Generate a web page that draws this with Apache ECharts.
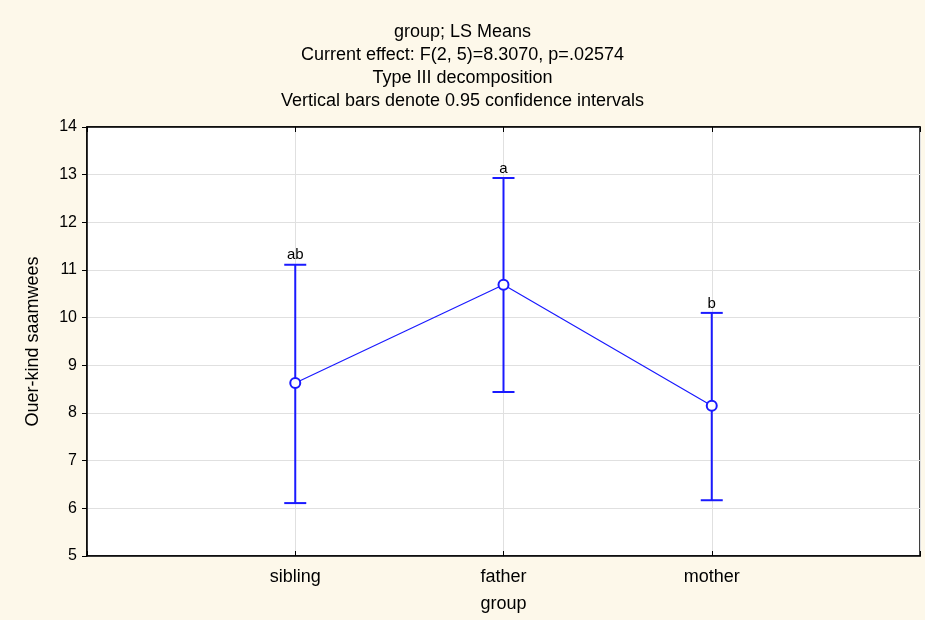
<!DOCTYPE html>
<html>
<head>
<meta charset="UTF-8" />
<script src="https://cdn.jsdelivr.net/npm/echarts@6/dist/echarts.min.js"></script>
<style>
  html, body { margin: 0; padding: 0; background: #fdf8ea; }
  #chart { width: 925px; height: 620px; }
</style>
</head>
<body>
<div id="chart"></div>
<script>
  // data
  const groups = ['sibling', 'father', 'mother'];
  const means = [8.63, 10.69, 8.15];
  const lower = [6.11, 8.44, 6.17];
  const upper = [11.11, 12.93, 10.10];
  const letters = ['ab', 'a', 'b'];
  const yTicks = [5, 6, 7, 8, 9, 10, 11, 12, 13, 14];

  const blue = '#1a1aff';
  const chart = echarts.init(document.getElementById('chart'));

  const lineData = groups.map((g, i) => [i + 1, means[i]]);
  const errData = groups.map((g, i) => [i + 1, lower[i], upper[i], letters[i]]);

  chart.setOption({
    backgroundColor: '#fdf8ea',
    textStyle: { fontFamily: 'Liberation Sans, Arial, sans-serif' },
    title: {
      text: 'group; LS Means\nCurrent effect: F(2, 5)=8.3070, p=.02574\nType III decomposition\nVertical bars denote 0.95 confidence intervals',
      left: 'center',
      top: 16,
      textStyle: { fontSize: 18, fontWeight: 'normal', color: '#000', lineHeight: 23 }
    },
    grid: {
      left: 87, right: 5, top: 127, bottom: 64,
      show: true, backgroundColor: '#fff', borderColor: '#000', borderWidth: 1.5
    },
    xAxis: [{
      type: 'value', min: 0, max: 4, interval: 1,
      name: 'group', nameLocation: 'middle', nameGap: 39,
      nameTextStyle: { fontSize: 18, color: '#000' },
      axisLine: { show: true, lineStyle: { color: '#000', width: 1.5 } },
      axisTick: { show: true, inside: true, length: 5, lineStyle: { color: '#000' } },
      axisLabel: {
        fontSize: 18, color: '#000', margin: 12,
        formatter: v => groups[v - 1] || ''
      },
      splitLine: { show: true, lineStyle: { color: '#e0e0e0' } }
    }, {
      type: 'value', min: 0, max: 4, interval: 1, position: 'top',
      axisLine: { show: true, lineStyle: { color: '#000', width: 1.5 } },
      axisTick: { show: true, inside: true, length: 5, lineStyle: { color: '#000' } },
      axisLabel: { show: false },
      splitLine: { show: false }
    }],
    yAxis: {
      type: 'value', min: yTicks[0], max: yTicks[yTicks.length - 1], interval: 1,
      name: 'Ouer-kind saamwees', nameLocation: 'middle', nameGap: 45,
      nameTextStyle: { fontSize: 18, color: '#000' },
      axisLine: { show: true, lineStyle: { color: '#000', width: 1.5 } },
      axisTick: { show: true, length: 5, lineStyle: { color: '#000' } },
      axisLabel: { fontSize: 16, color: '#000', margin: 10 },
      splitLine: { show: true, lineStyle: { color: '#e0e0e0' } }
    },
    series: [{
      type: 'custom',
      data: errData,
      z: 3,
      renderItem: (params, api) => {
        const x = api.value(0);
        const lo = api.coord([x, api.value(1)]);
        const hi = api.coord([x, api.value(2)]);
        const hw = 11;
        const st = { stroke: blue, lineWidth: 2 };
        return {
          type: 'group',
          children: [
            { type: 'line', shape: { x1: lo[0], y1: lo[1], x2: hi[0], y2: hi[1] }, style: st },
            { type: 'line', shape: { x1: lo[0] - hw, y1: lo[1], x2: lo[0] + hw, y2: lo[1] }, style: st },
            { type: 'line', shape: { x1: hi[0] - hw, y1: hi[1], x2: hi[0] + hw, y2: hi[1] }, style: st },
            { type: 'text', style: {
                x: hi[0], y: hi[1] - 2, text: letters[params.dataIndex],
                textAlign: 'center', textVerticalAlign: 'bottom',
                fontSize: 15, fill: '#000', fontFamily: 'Liberation Sans, Arial, sans-serif'
            } }
          ]
        };
      }
    }, {
      type: 'line',
      data: lineData,
      z: 4,
      symbol: 'emptyCircle',
      symbolSize: 10,
      lineStyle: { color: blue, width: 1.2 },
      itemStyle: { color: blue, borderColor: blue, borderWidth: 1.5 }
    }]
  });
</script>
</body>
</html>
